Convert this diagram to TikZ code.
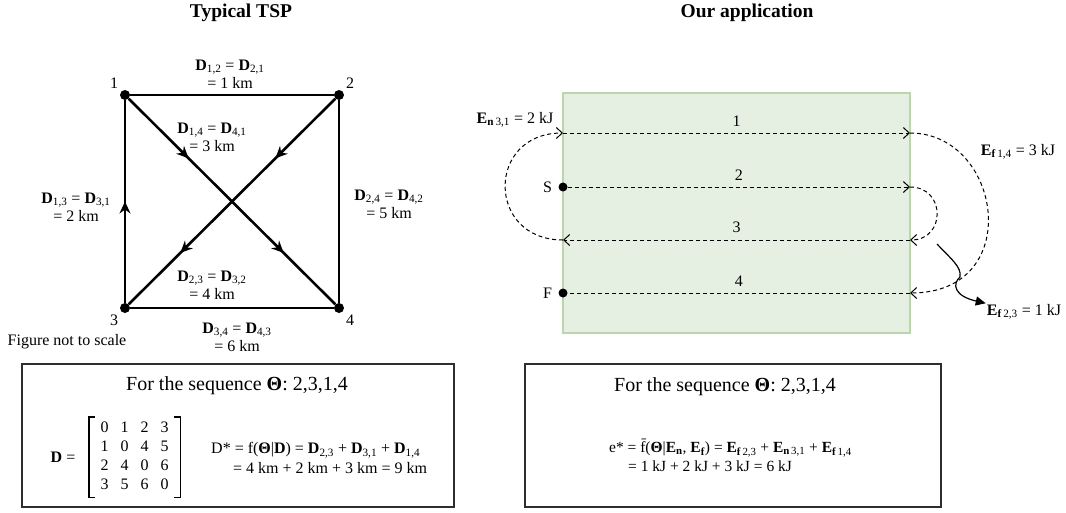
\documentclass[tikz,border=0pt]{standalone}
\usepackage{fontspec}
\setmainfont{Liberation Serif}
\usepackage{tikz}
\usetikzlibrary{arrows.meta,positioning,decorations.markings}
\definecolor{fieldgreen}{HTML}{E6F0E2}
\definecolor{fieldedge}{HTML}{B9D7AA}
\definecolor{boxgrey}{HTML}{2E2E2E}
\newcommand{\Dij}[2]{\textbf{D}\textsubscript{#1,#2}}
\newcommand{\Eij}[3]{\textbf{E}\textsubscript{\textbf{#1}\,#2,#3}}
\tikzset{
  tourtip/.tip={Stealth[length=12pt,width=11pt,inset=4pt]},
  flowtip/.tip={Straight Barb[length=6pt,width=11pt]},
  txt/.style={
    font=\fontsize{16}{18}\selectfont,
    inner sep=1pt,
    align=center
  },
  eqtxt/.style={
    font=\fontsize{15.5}{18}\selectfont,
    inner sep=1pt
  },
  title/.style={
    font=\fontsize{19.5}{22}\selectfont\bfseries,
    inner sep=1pt
  },
  boxtitle/.style={
    font=\fontsize{20}{24}\selectfont,
    inner sep=1pt
  },
  citynode/.style={circle, fill=black, inner sep=0pt, minimum size=10pt},
  citylabel/.style={txt, label distance=3pt},
  pointnode/.style={circle, fill=black, inner sep=0pt, minimum size=9pt},
  tour/.style={line width=2.6pt},
  onetip/.style={
    postaction={decorate},
    decoration={markings, mark=at position #1 with {\arrow{tourtip}}}
  },
  twotips/.style={
    postaction={decorate},
    decoration={markings,
      mark=at position 0.29 with {\arrow{tourtip}},
      mark=at position 0.75 with {\arrow{tourtip}}}
  },
  field/.style={draw=fieldedge, fill=fieldgreen, line width=2.5pt},
  flow/.style={dash pattern=on 4pt off 3pt, line width=1pt, -{flowtip}},
  rowlabel/.style={txt, midway, above=5.5pt},
  bent/.style={line width=1.2pt, -{Triangle[length=10pt,width=9pt]}},
  framebox/.style={draw=boxgrey, line width=1.5pt},
  bracket/.style={line width=1.4pt}
}

\begin{document}
\begin{tikzpicture}[x=1pt, y=-1pt]
\useasboundingbox (0,0) rectangle (1066,512);

\node[title] (tsptitle) at (241,13) {Typical TSP};
\node[title] (apptitle) at (747,13) {Our application};

% left: the four cities
\node[citynode, label={[citylabel]135:1}] (c1) at (125,95) {};
\node[citynode, label={[citylabel]45:2}] (c2) at (339,95) {};
\node[citynode, label={[citylabel]225:3}] (c3) at (125,308) {};
\node[citynode, label={[citylabel]-45:4}] (c4) at (339,308) {};

\draw[tour] (c1) -- (c2);
\draw[tour] (c2) -- (c4);
\draw[tour] (c3) -- (c4);
\draw[tour, onetip=0.5] (c3) -- (c1);
\draw[tour, twotips] (c1) -- (c4);
\draw[tour, twotips] (c2) -- (c3);

\node[txt] (d12) at (230,74) {\Dij12 = \Dij21\\= 1 km};
\node[txt] (d14) at (212,137) {\Dij14 = \Dij41\\= 3 km};
\node[txt] (d13) at (76,207) {\Dij13 = \Dij31\\= 2 km};
\node[txt] (d24) at (389,204) {\Dij24 = \Dij42\\= 5 km};
\node[txt] (d23) at (212,285) {\Dij23 = \Dij32\\= 4 km};
\node[txt] (d34) at (237,337) {\Dij34 = \Dij43\\= 6 km};
\node[txt] (noscale) at (67,342) {Figure not to scale};

% right: the field
\node[field, minimum width=347pt, minimum height=240pt] (field) at (736.5,213) {};
\node[pointnode, label={[txt, label distance=5pt]left:S}] (s) at (563,187) {};
\node[pointnode, label={[txt, label distance=5pt]left:F}] (f) at (563,293) {};
\coordinate (a1) at (563,133);
\coordinate (b1) at (910,133);
\coordinate (b2) at (910,187);
\coordinate (a3) at (563,240);
\coordinate (b3) at (910,240);
\coordinate (b4) at (910,293);

\draw[flow] (s) -- node[rowlabel] {2} (b2);
\draw[flow] (b2) .. controls (946,187) and (946,240) .. (b3);
\draw[flow] (b3) -- node[rowlabel] {3} (a3);
\draw[flow] (a3) .. controls (486,240) and (486,133) .. (a1);
\draw[flow] (a1) -- node[rowlabel] {1} (b1);
\draw[flow] (b1) .. controls (1002,133) and (1026,293) .. (b4);
\draw[flow, -] (b4) -- node[rowlabel] {4} (f);

\node[txt] (e31) at (515,120) {\Eij n31 = 2 kJ};
\node[txt] (e14) at (1018,152) {\Eij f14 = 3 kJ};
\node[txt] (e23) at (1024,312) {\Eij f23 = 1 kJ};

\coordinate (j0) at (937,244);
\coordinate (jump) at (960,277);
\draw[bent] (j0) .. controls (950,258) and (962,267) .. (jump)
  .. controls (952,284) and (954,296) .. (e23);

% bottom boxes
\node[framebox, minimum width=432pt, minimum height=143pt] (tspbox) at (238,435.5) {};
\node[boxtitle] (tspseq) at (237,386) {For the sequence \textbf{Θ}: 2,3,1,4};
\node[txt] (dname) at (63,457) {\textbf{D} =};
\node[txt, font=\fontsize{16}{19.2}\selectfont, minimum width=91pt, minimum height=80pt, inner sep=0pt] (dmat) at (134.5,457)
  {\setlength{\tabcolsep}{6pt}\begin{tabular}{@{}cccc@{}}0&1&2&3\\1&0&4&5\\2&4&0&6\\3&5&6&0\end{tabular}};
\draw[bracket] ([xshift=6pt]dmat.north west) -- (dmat.north west) -- (dmat.south west) -- ([xshift=6pt]dmat.south west);
\draw[bracket] ([xshift=-6pt]dmat.north east) -- (dmat.north east) -- (dmat.south east) -- ([xshift=-6pt]dmat.south east);
\node[txt, anchor=west] (dstar) at (210,450) {D* = f(\textbf{Θ}|\textbf{D}) = \Dij23 + \Dij31 + \Dij14};
\node[txt, anchor=west] (dsum) at (232,468) {= 4 km + 2 km + 3 km = 9 km};

\node[framebox, minimum width=416pt, minimum height=143pt] (appbox) at (733,435.5) {};
\node[boxtitle] (appseq) at (725,387) {For the sequence \textbf{Θ}: 2,3,1,4};
\node[eqtxt, anchor=west] (estar) at (608,448)
  {e* = \={f}(\textbf{Θ}|\textbf{E}\textsubscript{\textbf{n}}, \textbf{E}\textsubscript{\textbf{f}}) = \Eij f23 + \Eij n31 + \Eij f14};
\node[eqtxt, anchor=west] (esum) at (627,466) {= 1 kJ + 2 kJ + 3 kJ = 6 kJ};
\end{tikzpicture}
\end{document}
